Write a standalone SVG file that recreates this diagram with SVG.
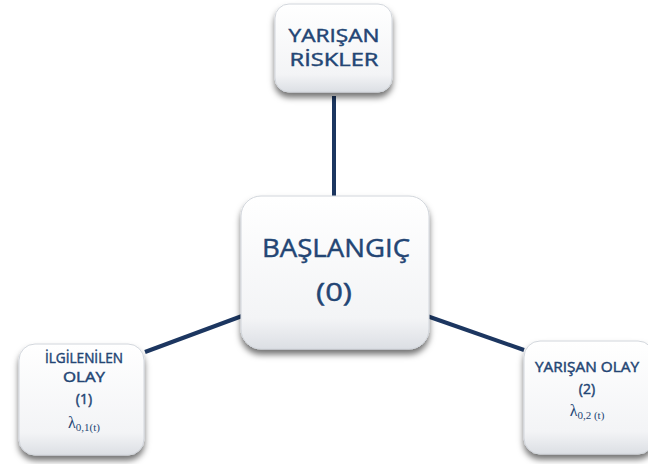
<svg xmlns="http://www.w3.org/2000/svg" width="648" height="464" viewBox="0 0 648 464">
<defs>
<linearGradient id="g" x1="0" y1="0" x2="0" y2="1">
<stop offset="0" stop-color="#ffffff"/>
<stop offset="0.8" stop-color="#f3f4f6"/>
<stop offset="1" stop-color="#dcdfe4"/>
</linearGradient>
<filter id="sh" x="-20%" y="-20%" width="140%" height="150%">
<feDropShadow dx="0" dy="5" stdDeviation="3" flood-color="#000" flood-opacity="0.55"/>
</filter>
<style>
.box{fill:url(#g);stroke:#d2d6dc;stroke-width:1;filter:url(#sh)}
.t{font-family:"Open Sans","Noto Sans",sans-serif;fill:#234574;stroke:#234574;stroke-width:0.45;text-anchor:middle}
.l{font-family:"Liberation Serif",serif;fill:#234574;text-anchor:middle}
.c{stroke:#1c3660;stroke-width:4;fill:none}
</style>
</defs>
<g id="connectors">
<line class="c" x1="334" y1="96" x2="334" y2="198"/>
<line class="c" x1="242" y1="316" x2="145" y2="352"/>
<line class="c" x1="427" y1="316" x2="524" y2="350"/>
</g>
<g id="node-top">
<rect class="box" x="275" y="4" width="117" height="88" rx="14"/>
<text class="t" x="334" y="42" font-size="19" textLength="91" lengthAdjust="spacingAndGlyphs">YARIŞAN</text>
<text class="t" x="334" y="66" font-size="19" textLength="89" lengthAdjust="spacingAndGlyphs">RİSKLER</text>
</g>
<g id="node-center">
<rect class="box" x="241" y="196" width="188" height="153" rx="20"/>
<text class="t" x="336" y="257" font-size="26" textLength="148" lengthAdjust="spacingAndGlyphs">BAŞLANGIÇ</text>
<text class="t" x="334" y="301" font-size="26" textLength="36" lengthAdjust="spacingAndGlyphs">(0)</text>
</g>
<g id="node-left">
<rect class="box" x="19" y="344" width="125" height="111" rx="16"/>
<text class="t" x="84" y="363" font-size="14" textLength="78" lengthAdjust="spacingAndGlyphs">İLGİLENİLEN</text>
<text class="t" x="84" y="382" font-size="14" textLength="42" lengthAdjust="spacingAndGlyphs">OLAY</text>
<text class="t" x="84" y="404" font-size="14">(1)</text>
<text class="l" x="84" y="428" font-size="16">λ<tspan font-size="11" dy="3">0,1(t)</tspan></text>
</g>
<g id="node-right">
<rect class="box" x="524" y="341" width="130" height="113" rx="16"/>
<text class="t" x="587" y="372" font-size="14" textLength="104" lengthAdjust="spacingAndGlyphs">YARIŞAN OLAY</text>
<text class="t" x="587" y="394" font-size="14">(2)</text>
<text class="l" x="587" y="416" font-size="16">λ<tspan font-size="11" dy="3">0,2 (t)</tspan></text>
</g>
</svg>
